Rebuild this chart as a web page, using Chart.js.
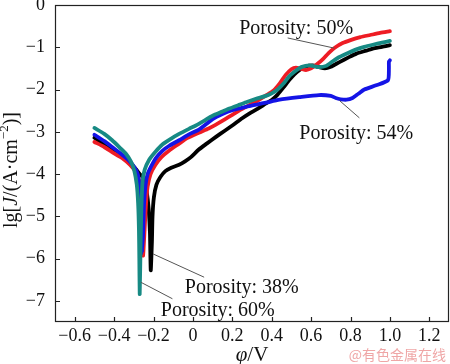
<!DOCTYPE html>
<html><head><meta charset="utf-8">
<script src="https://cdn.jsdelivr.net/npm/chart.js@4/dist/chart.umd.min.js"></script>
<style>html,body{margin:0;padding:0;background:#fff;}</style>
</head><body>
<canvas id="c" width="450" height="364"></canvas>
<script>
// ---- axis ticks ----
const xTickValues = [-0.6, -0.4, -0.2, 0, 0.2, 0.4, 0.6, 0.8, 1.0, 1.2];
const xTickLabels = ["−0.6", "−0.4", "−0.2", "0", "0.2", "0.4", "0.6", "0.8", "1.0", "1.2"];
const yTickValues = [0, -1, -2, -3, -4, -5, -6, -7];
const yTickLabels = ["0", "−1", "−2", "−3", "−4", "−5", "−6", "−7"];

// ---- series (potential in V, lg J) ----
const seriesNames = ["Porosity: 38%", "Porosity: 50%", "Porosity: 54%", "Porosity: 60%"];
const seriesColors = ["#000000", "#ee1c24", "#1414e6", "#178a84"];

const p38X = [-0.5, -0.45, -0.4, -0.35, -0.32, -0.29, -0.27, -0.25, -0.235, -0.225, -0.218, -0.214,
  -0.208, -0.205, -0.198, -0.185, -0.165, -0.14, -0.11, -0.07, -0.04, -0.01, 0.03, 0.07, 0.117, 0.16, 0.2, 0.25, 0.286, 0.33, 0.371, 0.40, 0.43, 0.46, 0.49, 0.515, 0.54, 0.57, 0.608, 0.64, 0.67, 0.70, 0.744, 0.79, 0.83, 0.88, 0.913, 0.96, 1.0];
const p38Y = [-3.14, -3.3, -3.44, -3.6, -3.72, -3.88, -4.0, -4.1, -4.4, -4.8, -5.4, -6.28,
  -5.6, -5.0, -4.55, -4.25, -4.07, -3.93, -3.85, -3.78, -3.7, -3.6, -3.42, -3.28, -3.12, -2.98, -2.85, -2.68, -2.57, -2.45, -2.33, -2.25, -2.12, -1.95, -1.77, -1.64, -1.54, -1.46, -1.43, -1.47, -1.50, -1.46, -1.35, -1.24, -1.15, -1.08, -1.03, -0.99, -0.95];

const p50X = [-0.5, -0.45, -0.41, -0.36, -0.32, -0.29, -0.27, -0.26, -0.256, -0.253,
  -0.245, -0.238, -0.23, -0.215, -0.19, -0.16, -0.12, -0.07, -0.03, 0.03, 0.08, 0.117, 0.16, 0.2, 0.25, 0.286, 0.33, 0.371, 0.41, 0.44, 0.47, 0.50, 0.523, 0.55, 0.574, 0.60, 0.628, 0.66, 0.69, 0.72, 0.76, 0.80, 0.85, 0.90, 0.95, 1.0];
const p50Y = [-3.24, -3.36, -3.48, -3.62, -3.78, -3.95, -4.2, -4.6, -5.1, -5.93,
  -5.3, -4.7, -4.3, -4.0, -3.78, -3.6, -3.44, -3.28, -3.15, -3.02, -2.92, -2.83, -2.71, -2.6, -2.46, -2.37, -2.26, -2.14, -2.02, -1.86, -1.66, -1.52, -1.48, -1.51, -1.54, -1.5, -1.41, -1.28, -1.13, -1.01, -0.9, -0.83, -0.76, -0.71, -0.66, -0.62];

const p54X = [-0.5, -0.45, -0.41, -0.37, -0.324, -0.295, -0.28, -0.27, -0.263, -0.26, -0.258,
  -0.252, -0.248, -0.24, -0.23, -0.21, -0.188, -0.155, -0.12, -0.07, -0.02, 0.03, 0.1, 0.15, 0.2, 0.27, 0.33, 0.371, 0.44, 0.54, 0.64, 0.70, 0.725, 0.75, 0.78, 0.81, 0.84, 0.87, 0.93, 0.99, 0.995, 0.995, 1.0];
const p54Y = [-3.07, -3.22, -3.36, -3.5, -3.68, -3.85, -4.0, -4.3, -4.75, -5.3, -5.87,
  -5.3, -4.7, -4.25, -4.0, -3.8, -3.62, -3.45, -3.33, -3.2, -3.06, -2.95, -2.7, -2.58, -2.49, -2.41, -2.35, -2.31, -2.24, -2.18, -2.13, -2.15, -2.2, -2.23, -2.24, -2.2, -2.1, -2.0, -1.9, -1.78, -1.5, -1.34, -1.31];

const p60X = [-0.5, -0.45, -0.41, -0.37, -0.34, -0.315, -0.298, -0.285, -0.278, -0.274, -0.272, -0.27,
  -0.266, -0.262, -0.256, -0.245, -0.222, -0.19, -0.155, -0.11, -0.07, -0.02, 0.015, 0.06, 0.1, 0.15, 0.185, 0.23, 0.27, 0.32, 0.371, 0.40, 0.43, 0.46, 0.49, 0.524, 0.55, 0.59, 0.642, 0.676, 0.71, 0.744, 0.79, 0.83, 0.87, 0.913, 0.96, 1.0];
const p60Y = [-2.91, -3.05, -3.2, -3.38, -3.52, -3.7, -3.91, -4.25, -4.7, -5.3, -6.0, -6.84,
  -5.8, -4.9, -4.2, -3.9, -3.66, -3.47, -3.3, -3.16, -3.05, -2.93, -2.85, -2.73, -2.62, -2.52, -2.45, -2.37, -2.3, -2.22, -2.15, -2.09, -2.0, -1.86, -1.68, -1.55, -1.47, -1.43, -1.47, -1.44, -1.33, -1.23, -1.13, -1.05, -0.99, -0.94, -0.89, -0.85];

// ---- annotations (data coordinates) ----
const annoText = ["Porosity: 50%", "Porosity: 54%", "Porosity: 38%", "Porosity: 60%"];
const annoX = [0.235, 0.54, -0.041, -0.163];
const annoY = [-0.675, -3.16, -6.81, -7.35];
const leadX1 = [0.481, 0.744, -0.202, -0.264];
const leadY1 = [-0.78, -2.26, -5.89, -6.56];
const leadX2 = [0.718, 0.845, 0.057, -0.104];
const leadY2 = [-1.02, -2.67, -6.44, -6.95];

const xs = [p38X, p50X, p54X, p60X];
const ys = [p38Y, p50Y, p54Y, p60Y];
const drawOrder = [3, 2, 1, 0];

const SERIF = "'Liberation Serif', 'Times New Roman', serif";

const datasets = seriesNames.map((name, i) => ({
  label: name,
  data: xs[i].map((x, k) => ({ x: x, y: ys[i][k] })),
  borderColor: seriesColors[i],
  backgroundColor: seriesColors[i],
  borderWidth: 3.8,
  pointRadius: 0,
  tension: 0.2,
  borderJoinStyle: 'round',
  borderCapStyle: 'round',
  fill: false,
  order: drawOrder[i]
}));

function drawSegments(ctx, segs, x, y) {
  let total = 0;
  segs.forEach(s => { ctx.font = s[1]; total += ctx.measureText(s[0]).width; });
  let cx = x - total / 2;
  segs.forEach(s => {
    ctx.font = s[1];
    ctx.fillText(s[0], cx, y + (s[2] || 0));
    cx += ctx.measureText(s[0]).width;
  });
}

const decor = {
  id: 'decor',
  afterDatasetsDraw(chart) {
    const ctx = chart.ctx;
    const a = chart.chartArea;
    const xS = chart.scales.x, yS = chart.scales.y;
    ctx.save();
    ctx.strokeStyle = '#222';
    ctx.lineWidth = 1.2;
    ctx.strokeRect(a.left + 0.5, a.top + 0.5, a.right - a.left - 1, a.bottom - a.top - 1);
    ctx.beginPath();
    xTickValues.forEach(v => {
      const px = Math.round(xS.getPixelForValue(v)) + 0.5;
      ctx.moveTo(px, a.bottom); ctx.lineTo(px, a.bottom - 5);
    });
    yTickValues.forEach(v => {
      const py = Math.round(yS.getPixelForValue(v)) + 0.5;
      ctx.moveTo(a.left, py); ctx.lineTo(a.left + 5, py);
    });
    ctx.stroke();
    ctx.strokeStyle = '#555';
    ctx.lineWidth = 1;
    ctx.beginPath();
    leadX1.forEach((v, i) => {
      ctx.moveTo(xS.getPixelForValue(leadX1[i]), yS.getPixelForValue(leadY1[i]));
      ctx.lineTo(xS.getPixelForValue(leadX2[i]), yS.getPixelForValue(leadY2[i]));
    });
    ctx.stroke();
    ctx.fillStyle = '#111';
    ctx.font = "20px " + SERIF;
    ctx.textAlign = 'left';
    ctx.textBaseline = 'alphabetic';
    annoText.forEach((t, i) => {
      ctx.fillText(t, xS.getPixelForValue(annoX[i]), yS.getPixelForValue(annoY[i]));
    });
    ctx.restore();

    ctx.save();
    ctx.fillStyle = '#111';
    ctx.textAlign = 'left';
    ctx.textBaseline = 'middle';
    drawSegments(ctx, [["φ", "italic 21px " + SERIF], ["/V", "21px " + SERIF]], (a.left + a.right) / 2, 355);
    ctx.translate(12, 170);
    ctx.rotate(-Math.PI / 2);
    drawSegments(ctx, [
      ["lg[", "20px " + SERIF],
      ["J", "italic 20px " + SERIF],
      ["/(A·cm", "20px " + SERIF],
      ["−2", "13px " + SERIF, -7],
      [")]", "20px " + SERIF]
    ], 0, 0);
    ctx.restore();

    ctx.save();
    ctx.fillStyle = 'rgba(236,150,150,0.85)';
    ctx.font = "14px 'Noto Sans CJK SC', sans-serif";
    ctx.textAlign = 'right';
    ctx.textBaseline = 'middle';
    ctx.fillText("@有色金属在线", 446, 355);
    ctx.restore();
  }
};

new Chart(document.getElementById('c'), {
  type: 'line',
  data: { datasets: datasets },
  options: {
    responsive: false,
    animation: false,
    events: [],
    layout: { padding: { top: 5, right: 1, left: 0, bottom: 0 } },
    plugins: { legend: { display: false }, tooltip: { enabled: false }, title: { display: false } },
    scales: {
      x: {
        type: 'linear', min: -0.7, max: 1.3,
        grid: { display: false, drawTicks: false },
        border: { display: false },
        afterBuildTicks: s => { s.ticks = xTickValues.map(v => ({ value: v })); },
        afterFit: s => { s.height = 42; s.paddingLeft = 0; s.paddingRight = 0; },
        ticks: {
          autoSkip: false, maxRotation: 0, padding: 3, color: '#111',
          font: { family: SERIF, size: 18 },
          callback: v => { const k = xTickValues.findIndex(t => Math.abs(t - v) < 1e-9); return k >= 0 ? xTickLabels[k] : ''; }
        }
      },
      y: {
        type: 'linear', min: -7.5, max: 0,
        grid: { display: false, drawTicks: false },
        border: { display: false },
        afterBuildTicks: s => { s.ticks = yTickValues.map(v => ({ value: v })); },
        afterFit: s => { s.width = 55; s.paddingTop = 0; s.paddingBottom = 0; },
        ticks: {
          autoSkip: false, padding: 10, color: '#111',
          font: { family: SERIF, size: 18 },
          callback: v => { const k = yTickValues.findIndex(t => Math.abs(t - v) < 1e-9); return k >= 0 ? yTickLabels[k] : ''; }
        }
      }
    }
  },
  plugins: [decor]
});
</script>
</body></html>
